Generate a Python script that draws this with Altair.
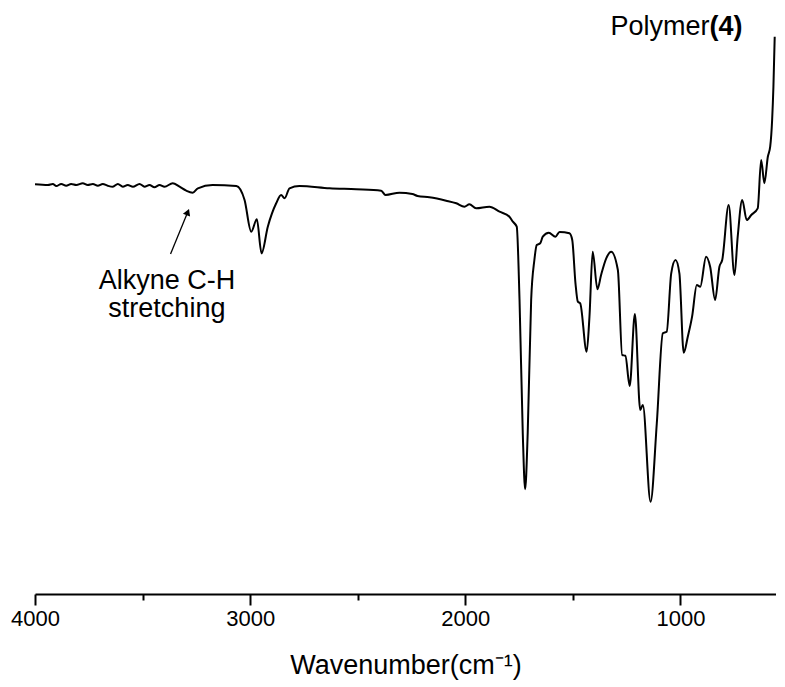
import altair as alt
import pandas as pd

# IR spectrum
wavenumber = [4000, 3940, 3917, 3901, 3878, 3855, 3832, 3808, 3778, 3755, 3731, 3708, 3685,
              3662, 3638, 3615, 3592, 3569, 3545, 3514, 3491, 3468, 3445, 3421, 3398, 3360,
              3328, 3297, 3267, 3243, 3175, 3064, 3026, 2995, 2969, 2947, 2918, 2879, 2856,
              2840, 2817, 2771, 2631, 2507, 2391, 2371, 2306, 2246, 2222, 2167, 2089, 2042,
              2004, 1981, 1950, 1888, 1841, 1795, 1779, 1761, 1748, 1733, 1722, 1710, 1694,
              1679, 1668, 1652, 1640, 1612, 1581, 1562, 1516, 1503, 1488, 1477, 1466, 1436,
              1423, 1408, 1386, 1369, 1345, 1322, 1291, 1271, 1256, 1236, 1212, 1187, 1175,
              1139, 1110, 1082, 1064, 1043, 1023, 1005, 985, 966, 946, 924, 908, 881, 862,
              839, 819, 806, 776, 749, 734, 713, 692, 671, 641, 625, 610, 594, 583, 574,
              568, 562]
transmittance = [70.15, 70.03, 70.21, 69.86, 70.21, 69.91, 70.21, 70.03, 70.33, 70.03, 70.21,
                 69.91, 70.21, 69.91, 69.74, 70.21, 69.74, 70.03, 69.74, 70.21, 69.74, 70.03,
                 69.64, 70.03, 69.74, 70.33, 69.74, 69.06, 68.72, 69.47, 70.03, 69.86, 67.47,
                 62.04, 64.16, 58.34, 62.89, 66.90, 68.32, 67.76, 69.47, 69.86, 69.47, 69.30,
                 69.06, 68.32, 68.72, 68.49, 68.15, 67.93, 67.35, 66.90, 66.32, 66.73, 66.04,
                 66.32, 65.46, 64.61, 63.75, 62.89, 50.34, 27.57, 17.93, 27.57, 50.34, 57.19,
                 59.76, 60.05, 61.18, 61.87, 61.18, 61.99, 61.76, 60.62, 53.20, 50.05, 49.78,
                 41.49, 47.48, 58.61, 52.17, 54.62, 57.48, 58.61, 55.48, 40.92, 40.80, 35.62,
                 47.95, 31.51, 32.36, 15.80, 29.23, 44.64, 44.91, 54.91, 57.19, 54.91, 41.32,
                 44.06, 47.5, 52.91, 52.62, 57.76, 56.04, 50.34, 56.04, 57.19, 66.61, 54.62,
                 61.18, 67.47, 64.04, 64.90, 66.04, 74.32, 70.33, 74.88, 76.59, 81.16, 86.87,
                 95.43]

# annotations
note_lines = ["Alkyne C-H", "stretching"]
note_x = [3387, 3387]
note_y = [52.2, 47.5]
arrow_tail = (3370, 58.2)
arrow_head = (3290, 65.4)
label_x = 865
label_y = 95.7

FONT = "Liberation Sans"

df = pd.DataFrame({"w": wavenumber, "t": transmittance})

xscale = alt.Scale(domain=[556, 4000], reverse=True, nice=False, zero=False)
yscale = alt.Scale(domain=[0, 100], nice=False, zero=False)

line = alt.Chart(df).mark_line(color="black", strokeWidth=2, interpolate="monotone").encode(
    x=alt.X("w:Q", scale=xscale,
            axis=alt.Axis(values=[4000, 3500, 3000, 2500, 2000, 1500, 1000],
                          format="d",
                          labelExpr="datum.value % 1000 === 0 ? datum.label : ''",
                          tickSize={"condition": {"test": "datum.value % 1000 === 0", "value": 11}, "value": 6},
                          tickWidth=2, tickColor="black",
                          domainWidth=2, domainColor="black",
                          grid=False,
                          labelFlush=False, labelOverlap=False,
                          labelFont=FONT, labelFontSize=22, labelColor="black",
                          labelPadding=3,
                          title="Wavenumber(cm⁻¹)",
                          titleFont=FONT, titleFontSize=27, titleFontWeight="normal",
                          titleColor="black", titlePadding=23)),
    y=alt.Y("t:Q", scale=yscale, axis=None),
)

notes_df = pd.DataFrame({"w": note_x, "t": note_y, "txt": note_lines})
notes = alt.Chart(notes_df).mark_text(font=FONT, fontSize=27, color="black",
                                      align="center", baseline="alphabetic").encode(
    x=alt.X("w:Q", scale=xscale), y=alt.Y("t:Q", scale=yscale), text="txt:N")

arrow_df = pd.DataFrame({"w": [arrow_tail[0]], "t": [arrow_tail[1]],
                         "w2": [arrow_head[0]], "t2": [arrow_head[1]]})
arrow_line = alt.Chart(arrow_df).mark_rule(color="black", strokeWidth=1.3).encode(
    x=alt.X("w:Q", scale=xscale), y=alt.Y("t:Q", scale=yscale), x2="w2:Q", y2="t2:Q")
head_df = pd.DataFrame({"w": [arrow_head[0]], "t": [arrow_head[1]]})
arrow_tip = alt.Chart(head_df).mark_point(shape="triangle-up", filled=True, color="black",
                                          size=60, angle=22, opacity=1).encode(
    x=alt.X("w:Q", scale=xscale), y=alt.Y("t:Q", scale=yscale))

lab_df = pd.DataFrame({"w": [label_x], "t": [label_y]})
lab1 = alt.Chart(lab_df).mark_text(text="Polymer", font=FONT, fontSize=27, color="black",
                                   align="right", baseline="alphabetic").encode(
    x=alt.X("w:Q", scale=xscale), y=alt.Y("t:Q", scale=yscale))
lab2 = alt.Chart(lab_df).mark_text(text="(4)", font=FONT, fontSize=27, fontWeight="bold",
                                   color="black", align="left", baseline="alphabetic").encode(
    x=alt.X("w:Q", scale=xscale), y=alt.Y("t:Q", scale=yscale))

chart = alt.layer(line, notes, arrow_line, arrow_tip, lab1, lab2).properties(
    width=741, height=584,
    background="white",
    autosize=alt.AutoSizeParams(type="none"),
    padding={"left": 27, "top": 2, "right": 0, "bottom": 88},
).configure_view(strokeWidth=0, stroke="transparent")

chart.save("out.html", embed_options={"renderer": "svg", "actions": False})
